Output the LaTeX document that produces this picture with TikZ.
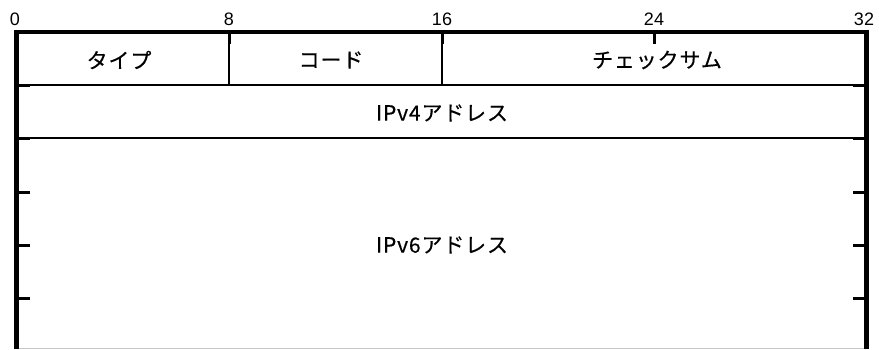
\documentclass[tikz,border=0pt]{standalone}
\usepackage{fontspec}
\setmainfont{Liberation Sans}
\newfontfamily\jp[LetterSpace=4,FakeBold=0.4]{Noto Sans CJK JP}
\begin{document}
\begin{tikzpicture}[x=1pt,y=-1pt,
  frame/.style={line width=4.5pt},
  topline/.style={line width=4pt},
  thin/.style={line width=1.3pt},
  tick/.style={line width=3pt},
  num/.style={font=\fontsize{18}{20}\selectfont, inner sep=0pt},
  field/.style={font=\jp\fontsize{21}{24}\selectfont, inner sep=0pt}]
\useasboundingbox (0,0) rectangle (879,349);
% coordinates
\coordinate (TL) at (14.2,31.5);
\coordinate (TR) at (868.8,31.5);
\coordinate (L0) at (16.5,29.5);
\coordinate (L1) at (16.5,349);
\coordinate (R0) at (866.5,29.5);
\coordinate (R1) at (866.5,349);
% bottom faint line
\draw[gray!45, line width=1pt] (18.7,348.5) -- (864.3,348.5);
% thin row lines
\foreach \y in {85,138} {
  \draw[thin] (16.5,\y) -- (866.5,\y);
}
% side ticks
\foreach \y in {85,138,192,245,298} {
  \draw[tick] (16.5,\y) -- (30,\y);
  \draw[tick] (853,\y) -- (866.5,\y);
}
% top ticks
\foreach \x in {229,442,654} {
  \draw[tick] (\x,31.5) -- (\x,44);
}
% field separators
\foreach \x in {229,442} {
  \draw[thin] (\x,44) -- (\x,85);
}
% frame
\draw[topline] (TL) -- (TR);
\draw[frame] (L0) -- (L1);
\draw[frame] (R0) -- (R1);
% bit numbers
\node[num] (b0) at (15,19.5) {0};
\node[num] (b8) at (229,19.5) {8};
\node[num] (b16) at (442,19.5) {16};
\node[num] (b24) at (654,19.5) {24};
\node[num] (b32) at (864,19.5) {32};
% fields
\node[field] (type) at (119,60) {タイプ};
\node[field] (code) at (331,60) {コード};
\node[field] (sum) at (657,60) {チェックサム};
\node[field] (v4) at (442,113) {IPv4アドレス};
\node[field] (v6) at (442,245) {IPv6アドレス};
\end{tikzpicture}
\end{document}
